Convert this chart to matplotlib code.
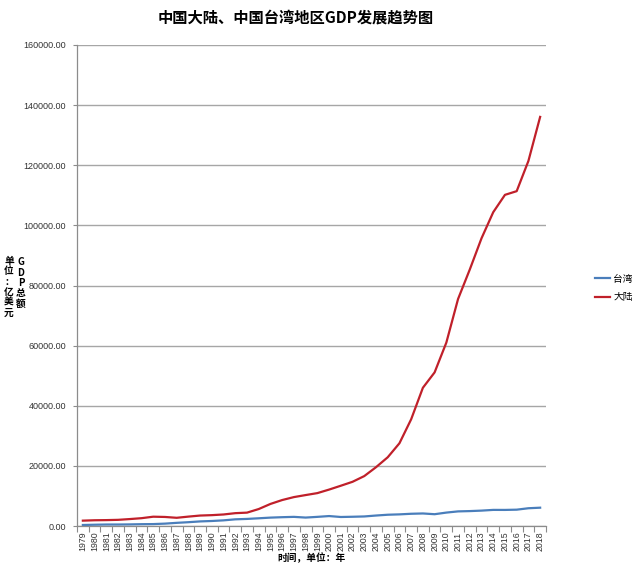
import matplotlib
matplotlib.use("Agg")
import matplotlib.pyplot as plt
from matplotlib.ticker import FixedLocator, FuncFormatter

plt.rcParams['font.family'] = ['Noto Sans CJK SC', 'DejaVu Sans']

years = [str(y) for y in range(1979, 2019)]
taiwan = [335, 423, 495, 493, 531, 605, 637, 787, 1050, 1265,
          1526, 1666, 1878, 2220, 2355, 2566, 2790, 2929, 3037, 2804,
          3040, 3307, 2997, 3075, 3175, 3482, 3747, 3868, 4068, 4170,
          3921, 4461, 4859, 4959, 5117, 5357, 5347, 5430, 5907, 6090]
mainland = [1783, 1911, 1959, 2050, 2306, 2599, 3094, 3008, 2729, 3123,
            3477, 3609, 3834, 4269, 4447, 5644, 7340, 8637, 9616, 10290,
            10940, 12113, 13394, 14705, 16603, 19553, 22860, 27521, 35500, 45982,
            51100, 61006, 75515, 85322, 95704, 104385, 110155, 111379, 121434, 136082]
yticks = list(range(0, 160001, 20000))

fig = plt.figure(figsize=(6.4, 5.66), dpi=100)
ax = fig.add_axes([77/640, 1-526/566, (546-77)/640, (526-45)/566])

x = list(range(len(years)))
ax.plot(x, taiwan, color='#4A7EBB', lw=1.6, label='台湾', solid_joinstyle='round')
ax.plot(x, mainland, color='#C0202A', lw=1.6, label='大陆', solid_joinstyle='round')

ax.set_xlim(-0.5, len(years) - 0.5)
ax.set_ylim(0, 160000)
ax.set_yticks(yticks)
ax.yaxis.set_major_formatter(FuncFormatter(lambda v, p: f"{v:.2f}"))
ax.yaxis.grid(True, color='#A6A6A6', lw=1)
ax.set_axisbelow(True)

ax.set_xticks(x)
ax.set_xticklabels(years, rotation=90, fontsize=6.3, family=['Liberation Sans'], color='#333333')
ax.xaxis.set_minor_locator(FixedLocator([i - 0.5 for i in range(len(years) + 1)]))
ax.tick_params(axis='x', which='major', length=0, pad=4)
ax.tick_params(axis='x', which='minor', length=4, color='#8C8C8C', width=0.8)
ax.tick_params(axis='y', length=3, color='#8C8C8C', width=0.8, pad=5)
for lbl in ax.get_yticklabels():
    lbl.set_fontsize(6.5)
    lbl.set_family(['Liberation Sans'])
    lbl.set_color('#333333')

for s in ['top', 'right']:
    ax.spines[s].set_visible(False)
for s in ['left', 'bottom']:
    ax.spines[s].set_color('#8C8C8C')
    ax.spines[s].set_linewidth(0.9)

fig.text(296/640, 1-17/566, '中国大陆、中国台湾地区GDP发展趋势图', ha='center', va='center',
         fontsize=11, fontweight='bold')
fig.text(311/640, 1-558/566, '时间，单位：年', ha='center', va='center',
         fontsize=7, fontweight='bold')
fig.text(9/640, 1-287/566, '\n'.join('单位：亿美元'), ha='center', va='center',
         fontsize=7, fontweight='bold', linespacing=1.05)
fig.text(21/640, 1-283/566, '\n'.join('GDP总额'), ha='center', va='center',
         fontsize=7, fontweight='bold', linespacing=1.05)

leg = ax.legend(loc='center left', bbox_to_anchor=(586/640, 1-288/566),
                bbox_transform=fig.transFigure, frameon=False, fontsize=7,
                handlelength=1.6, handletextpad=0.3, labelspacing=0.9)

fig.savefig('out.png', dpi=100)
